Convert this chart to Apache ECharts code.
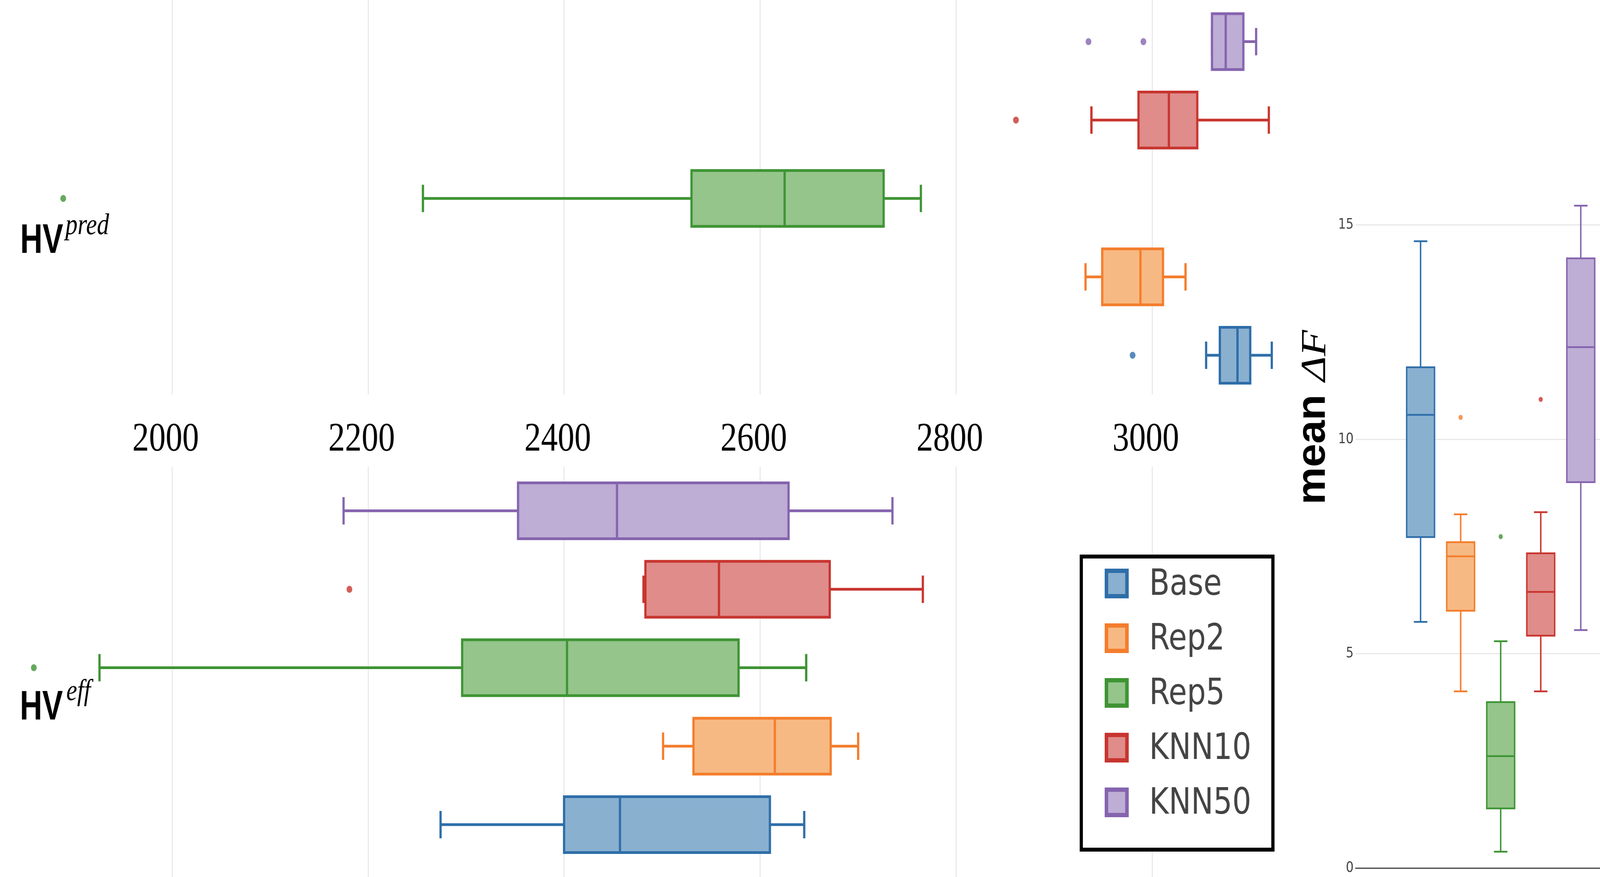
<!DOCTYPE html>
<html>
<head>
<meta charset="utf-8">
<script src="https://cdn.jsdelivr.net/npm/echarts@6/dist/echarts.min.js"></script>
<style>
html,body{margin:0;padding:0;background:#fff;overflow:hidden}
#main{width:4994px;height:2244px;transform-origin:0 0}
</style>
</head>
<body>
<div id="main"></div>
<script>
var methods = ['Base', 'Rep2', 'Rep5', 'KNN10', 'KNN50'];
var lineColors = ['#2e6ea9', '#f47d2c', '#3e9434', '#c8352f', '#8564ae'];
var fillColors = ['#8ab0d0', '#f7b983', '#95c58b', '#df8c8a', '#beadd5'];

// [min, q1, median, q3, max], one row per method
var hvPred = [
	[3055, 3069, 3087, 3100, 3122],
	[2932, 2949, 2988, 3011, 3034],
	[2256, 2530, 2625, 2726, 2764],
	[2938, 2986, 3017, 3046, 3119],
	[3061, 3061, 3075, 3093, 3106]
];
// [value, method index]
var hvPredOut = [[2980, 0], [1889, 2], [2861, 3], [2935, 4], [2991, 4]];

var hvEff = [
	[2274, 2400, 2457, 2610, 2645],
	[2501, 2532, 2615, 2672, 2700],
	[1926, 2296, 2403, 2578, 2647],
	[2481, 2483, 2558, 2671, 2766],
	[2175, 2353, 2454, 2629, 2735]
];
var hvEffOut = [[1859, 2], [2181, 3]];

var meanDF = [
	[5.74, 7.72, 10.57, 11.68, 14.62],
	[4.12, 6.00, 7.27, 7.60, 8.25],
	[0.38, 1.39, 2.61, 3.87, 5.29],
	[4.12, 5.42, 6.44, 7.34, 8.30],
	[5.55, 9.00, 12.15, 14.22, 15.45]
];
// [method index, value]
var meanDFOut = [[1, 10.51], [2, 7.73], [3, 10.93]];

var hvTicks = [2000, 2200, 2400, 2600, 2800, 3000];
var dfTicks = [0, 5, 10, 15];

// laid out in 4994x2244 units, stretched onto the real viewport
var box = document.getElementById('main');
box.style.transform = 'scale(' + (window.innerWidth / 4994) + ',' + (window.innerHeight / 2244) + ')';

var myChart = echarts.init(box);

function boxItems(stats){
	return stats.map(function(s, i){ return [i].concat(s); });
}

function outItems(list, idxPos){
	return list.map(function(d){
		return { value: d, itemStyle: { color: lineColors[d[idxPos]] } };
	});
}

function renderBox(horizontal, boxRatio, capRatio, lw){
	return function(params, api){
		var i = api.value(0);
		var p = [1, 2, 3, 4, 5].map(function(d){
			return horizontal ? api.coord([api.value(d), i]) : api.coord([i, api.value(d)]);
		});
		var band = horizontal ? api.size([0, 1])[1] : api.size([1, 0])[0];
		var hb = band * boxRatio / 2, hc = band * capRatio / 2;
		var stroke = lineColors[i];
		var ls = { stroke: stroke, lineWidth: lw, fill: null };
		function line(x1, y1, x2, y2){
			return { type: 'line', shape: { x1: x1, y1: y1, x2: x2, y2: y2 }, style: ls };
		}
		var kids;
		if(horizontal){
			var y = p[0][1];
			kids = [
				line(p[0][0], y, p[1][0], y),
				line(p[3][0], y, p[4][0], y),
				line(p[0][0], y - hc, p[0][0], y + hc),
				line(p[4][0], y - hc, p[4][0], y + hc),
				{ type: 'rect', shape: { x: p[1][0], y: y - hb, width: p[3][0] - p[1][0], height: 2 * hb },
				  style: { fill: fillColors[i], stroke: stroke, lineWidth: lw } },
				line(p[2][0], y - hb, p[2][0], y + hb)
			];
		}else{
			var x = p[0][0];
			kids = [
				line(x, p[0][1], x, p[1][1]),
				line(x, p[3][1], x, p[4][1]),
				line(x - hc, p[0][1], x + hc, p[0][1]),
				line(x - hc, p[4][1], x + hc, p[4][1]),
				{ type: 'rect', shape: { x: x - hb, y: p[3][1], width: 2 * hb, height: p[1][1] - p[3][1] },
				  style: { fill: fillColors[i], stroke: stroke, lineWidth: lw } },
				line(x - hb, p[2][1], x + hb, p[2][1])
			];
		}
		return { type: 'group', children: kids };
	};
}

function hvAxis(gridIndex, showLabel){
	return {
		type: 'value', gridIndex: gridIndex,
		min: 1800, max: 3130, interval: 200,
		axisLine: { show: false }, axisTick: { show: false },
		splitLine: { show: true, showMinLine: false, showMaxLine: false, lineStyle: { color: '#e6e6e6', width: 3 } },
		axisLabel: {
			show: showLabel, margin: 65, color: '#000',
			fontFamily: 'Liberation Serif', fontSize: 104,
			padding: [0, 40, 0, 0],
			formatter: function(v){ return hvTicks.indexOf(v) >= 0 ? String(v) : ''; }
		}
	};
}

var legendGraphics = [{
	type: 'rect', z: 100,
	shape: { x: 3375, y: 1424, width: 598, height: 750 },
	style: { fill: '#fff', stroke: '#000', lineWidth: 10 }
}];
methods.forEach(function(name, k){
	var yc = 1493 + 140 * k;
	legendGraphics.push({
		type: 'rect', z: 101,
		shape: { x: 3453.5, y: yc - 32.5, width: 64, height: 65 },
		style: { fill: fillColors[k], stroke: lineColors[k], lineWidth: 11 }
	});
	legendGraphics.push({
		type: 'text', z: 101, x: 3587, y: yc + 5,
		style: { text: name, font: '93px "DejaVu Sans"', fill: '#444', align: 'left', verticalAlign: 'middle' }
	});
});

var labelGraphics = [
	{ type: 'text', x: 63, y: 618, scaleX: 0.92,
	  style: { text: 'HV', font: 'bold 105px "Liberation Sans"', fill: '#000', align: 'left', verticalAlign: 'middle' } },
	{ type: 'text', x: 204, y: 579,
	  style: { text: 'pred', font: 'italic 76px "Liberation Serif"', fill: '#000', align: 'left', verticalAlign: 'middle' } },
	{ type: 'text', x: 62, y: 1812, scaleX: 0.92,
	  style: { text: 'HV', font: 'bold 105px "Liberation Sans"', fill: '#000', align: 'left', verticalAlign: 'middle' } },
	{ type: 'text', x: 207, y: 1771,
	  style: { text: 'eff', font: 'italic 76px "Liberation Serif"', fill: '#000', align: 'left', verticalAlign: 'middle' } },
	{ type: 'group', x: 4100, y: 1291, rotation: Math.PI / 2, children: [
		{ type: 'text', x: 0, y: 0, scaleX: 0.855,
		  style: { text: 'mean', font: 'bold 126px "Liberation Sans"', fill: '#000', align: 'left', verticalAlign: 'middle' } },
		{ type: 'text', x: 315, y: 7,
		  style: { text: '\u0394F', font: 'italic 110px "Liberation Serif"', fill: '#000', align: 'left', verticalAlign: 'middle' } }
	] }
];

myChart.setOption({
	animation: false,
	backgroundColor: '#fff',
	grid: [
		{ left: -75, top: 0, width: 4069, height: 1009, containLabel: false, outerBoundsMode: 'none' },
		{ left: -75, top: 1194, width: 4069, height: 1050, containLabel: false, outerBoundsMode: 'none' },
		{ left: 4231, top: 411, width: 906, height: 1810, containLabel: false, outerBoundsMode: 'none' }
	],
	xAxis: [
		hvAxis(0, true),
		hvAxis(1, false),
		{
			type: 'value', gridIndex: 2, min: -1.624, max: 5.624,
			axisLine: { show: true, onZero: true, lineStyle: { color: '#444', width: 3 } },
			axisTick: { show: false }, axisLabel: { show: false }, splitLine: { show: false }
		}
	],
	yAxis: [
		{ type: 'value', gridIndex: 0, min: -0.4985, max: 4.531, show: false },
		{ type: 'value', gridIndex: 1, min: -0.6675, max: 4.563, show: false },
		{
			type: 'value', gridIndex: 2, min: 0, max: 16.5, interval: 5,
			axisLine: { show: false }, axisTick: { show: false },
			splitLine: { show: true, showMaxLine: false, lineStyle: { color: '#e8e8e8', width: 3 } },
			axisLabel: {
				margin: 6, color: '#444', fontFamily: 'DejaVu Sans', fontSize: 38,
				formatter: function(v){ return dfTicks.indexOf(v) >= 0 ? String(v) : ''; }
			}
		}
	],
	series: [
		{ type: 'custom', name: 'HVpred', xAxisIndex: 0, yAxisIndex: 0,
		  renderItem: renderBox(true, 0.713, 0.349, 7),
		  encode: { x: [1, 2, 3, 4, 5], y: 0 }, data: boxItems(hvPred) },
		{ type: 'scatter', xAxisIndex: 0, yAxisIndex: 0, symbolSize: 18, data: outItems(hvPredOut, 1) },
		{ type: 'custom', name: 'HVeff', xAxisIndex: 1, yAxisIndex: 1,
		  renderItem: renderBox(true, 0.713, 0.349, 7),
		  encode: { x: [1, 2, 3, 4, 5], y: 0 }, data: boxItems(hvEff) },
		{ type: 'scatter', xAxisIndex: 1, yAxisIndex: 1, symbolSize: 18, data: outItems(hvEffOut, 1) },
		{ type: 'custom', name: 'meanDF', xAxisIndex: 2, yAxisIndex: 2,
		  renderItem: renderBox(false, 0.696, 0.336, 4.5),
		  encode: { x: 0, y: [1, 2, 3, 4, 5] }, data: boxItems(meanDF) },
		{ type: 'scatter', xAxisIndex: 2, yAxisIndex: 2, symbolSize: 13, data: outItems(meanDFOut, 0) }
	],
	graphic: legendGraphics.concat(labelGraphics)
});
</script>
</body>
</html>
